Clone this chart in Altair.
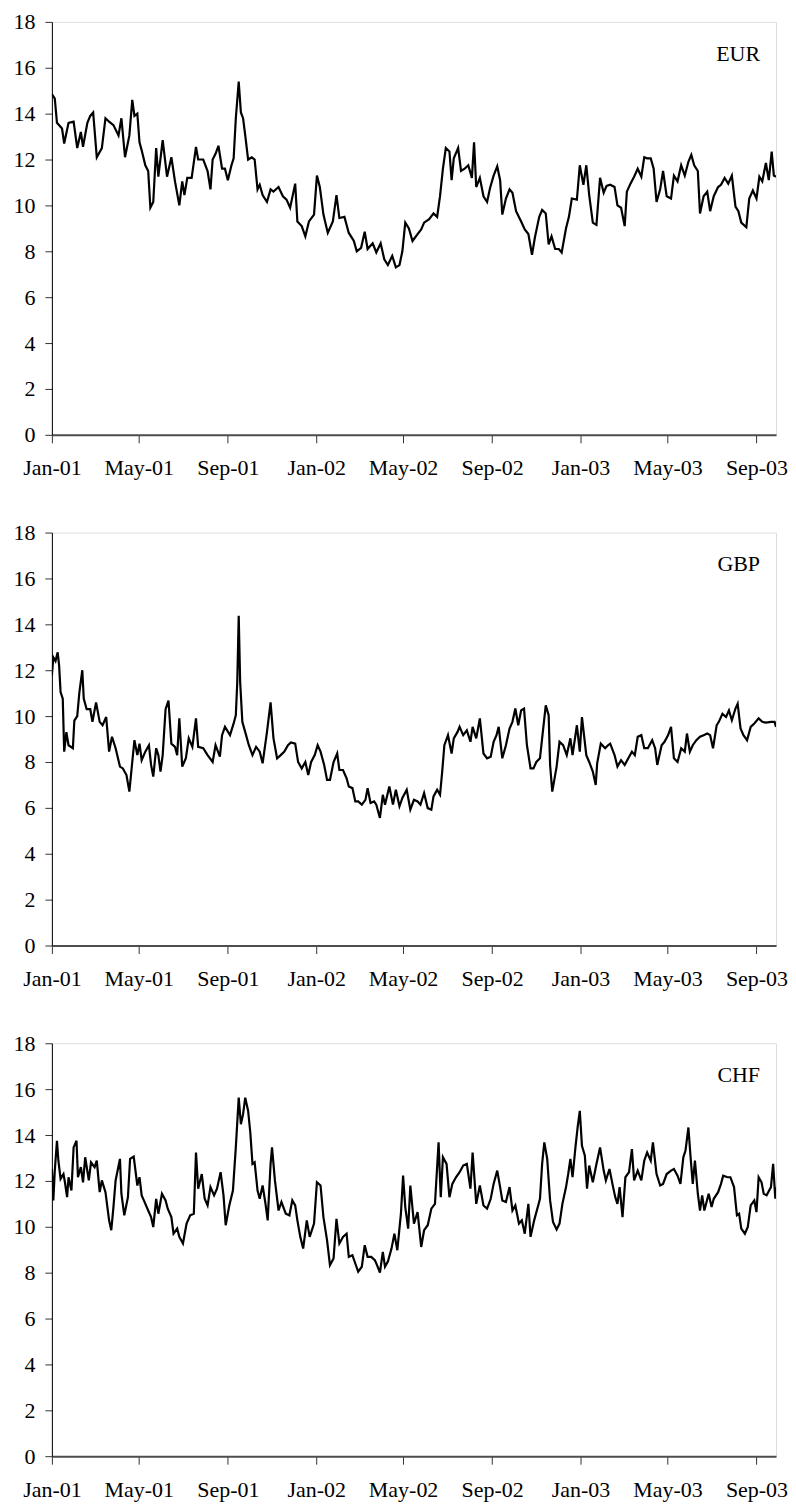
import altair as alt
import pandas as pd

BASE = "2001-01-01"
FONT = "Liberation Serif"

currencies = ["EUR", "GBP", "CHF"]
x_tick_dates = ["2001-01-01", "2001-05-01", "2001-09-01", "2002-01-01", "2002-05-01",
                "2002-09-01", "2003-01-01", "2003-05-01", "2003-09-01"]
y_ticks = [0, 2, 4, 6, 8, 10, 12, 14, 16, 18]
x_domain = ["2001-01-01", "2003-09-28"]

# day offsets from 2001-01-01 and values
eur_days = [0, 4, 7, 14, 17, 23, 30, 35, 40, 43,
            49, 53, 57, 62, 69, 74, 79, 85, 92, 96,
            101, 107, 111, 114, 118, 121, 124, 129, 133, 136,
            140, 144, 147, 153, 159, 165, 170, 176, 180, 183,
            187, 193, 199, 202, 209, 215, 219, 222, 226, 230,
            235, 239, 243, 248, 251, 254, 258, 261, 264, 267,
            271, 276, 280, 284, 287, 291, 297, 302, 306, 313,
            319, 324, 329, 336, 339, 345, 350, 355, 362, 366,
            370, 375, 381, 388, 393, 397, 404, 410, 417, 421,
            427, 432, 436, 443, 448, 454, 459, 464, 470, 475,
            480, 484, 488, 493, 498, 505, 510, 514, 521, 527,
            532, 536, 540, 544, 549, 552, 555, 561, 565, 570,
            575, 580, 583, 586, 591, 596, 601, 605, 610, 615,
            619, 622, 627, 632, 636, 641, 648, 653, 658, 663,
            667, 673, 677, 682, 686, 690, 695, 700, 704, 710,
            714, 718, 725, 729, 734, 738, 742, 747, 752, 757,
            762, 766, 771, 777, 781, 786, 791, 794, 799, 804,
            809, 814, 818, 822, 827, 831, 835, 840, 844, 849,
            855, 859, 864, 869, 874, 879, 883, 887, 892, 895,
            900, 905, 909, 914, 920, 924, 929, 934, 939, 944,
            948, 952, 959, 963, 968, 973, 977, 981, 986, 990,
            994, 997, 1000]
eur_vals = [14.85, 14.65, 13.6, 13.35, 12.7, 13.6, 13.65, 12.5, 13.2, 12.55,
            13.6, 13.9, 14.05, 12.1, 12.5, 13.8, 13.65, 13.5, 13.05, 13.8,
            12.1, 13.05, 14.6, 13.9, 14.0, 12.75, 12.4, 11.75, 11.5, 9.9,
            10.15, 12.5, 11.25, 12.85, 11.25, 12.1, 11.05, 10.0, 11.05, 10.45,
            11.2, 11.2, 12.55, 12.0, 12.0, 11.5, 10.7, 12.0, 12.25, 12.6,
            11.6, 11.6, 11.1, 11.75, 12.05, 13.8, 15.4, 14.05, 13.8, 13.05,
            12.0, 12.1, 12.0, 10.7, 10.9, 10.45, 10.15, 10.7, 10.6, 10.8,
            10.4, 10.25, 9.9, 10.95, 9.3, 9.1, 8.65, 9.3, 9.6, 11.3,
            10.8, 9.6, 8.8, 9.3, 10.45, 9.45, 9.5, 8.8, 8.45, 8.0,
            8.15, 8.85, 8.1, 8.35, 7.95, 8.35, 7.65, 7.4, 7.8, 7.3,
            7.4, 8.0, 9.25, 9.0, 8.45, 8.75, 8.95, 9.25, 9.4, 9.65,
            9.5, 10.4, 11.6, 12.5, 12.35, 11.1, 12.05, 12.5, 11.5, 11.6,
            11.75, 11.2, 12.75, 10.8, 11.2, 10.4, 10.15, 10.75, 11.3, 11.7,
            11.1, 9.6, 10.3, 10.7, 10.55, 9.75, 9.3, 8.95, 8.75, 7.85,
            8.6, 9.5, 9.8, 9.65, 8.3, 8.65, 8.1, 8.1, 7.95, 9.0,
            9.5, 10.3, 10.25, 11.75, 10.9, 11.75, 10.45, 9.25, 9.15, 11.2,
            10.55, 10.85, 10.9, 10.8, 10.0, 9.9, 9.1, 10.6, 10.95, 11.25,
            11.6, 11.25, 12.1, 12.05, 12.05, 11.6, 10.15, 10.7, 11.5, 10.4,
            10.3, 11.3, 11.05, 11.75, 11.3, 11.9, 12.2, 11.75, 11.5, 9.65,
            10.4, 10.6, 9.75, 10.4, 10.8, 10.9, 11.2, 10.95, 11.3, 9.95,
            9.75, 9.25, 9.05, 10.3, 10.65, 10.3, 11.25, 11.05, 11.85, 11.1,
            12.35, 11.3, 11.25]

gbp_days = [0, 2, 5, 8, 10, 12, 15, 17, 20, 23,
            29, 31, 35, 38, 42, 44, 48, 53, 56, 61,
            66, 70, 75, 79, 83, 88, 94, 98, 103, 107,
            111, 114, 118, 121, 124, 129, 134, 137, 140, 144,
            147, 150, 153, 157, 161, 165, 170, 173, 176, 180,
            185, 189, 194, 199, 202, 209, 215, 222, 226, 232,
            235, 239, 246, 251, 254, 256, 258, 260, 263, 267,
            272, 277, 282, 287, 291, 297, 302, 306, 311, 316,
            321, 326, 330, 336, 340, 345, 350, 354, 358, 363,
            367, 371, 376, 380, 384, 389, 394, 397, 402, 407,
            410, 415, 419, 423, 428, 433, 436, 440, 445, 448,
            453, 457, 460, 466, 471, 475, 480, 484, 490, 495,
            500, 505, 509, 514, 519, 524, 527, 532, 536, 539,
            542, 547, 552, 555, 560, 563, 568, 573, 578, 581,
            586, 591, 596, 601, 606, 610, 614, 617, 622, 627,
            632, 636, 640, 644, 648, 652, 656, 661, 665, 669,
            674, 677, 682, 686, 688, 691, 697, 701, 706, 711,
            716, 719, 725, 729, 732, 738, 742, 747, 751, 753,
            758, 764, 768, 771, 777, 781, 786, 791, 796, 801,
            805, 809, 814, 818, 823, 829, 833, 836, 842, 846,
            851, 855, 859, 864, 869, 874, 877, 881, 885, 890,
            895, 900, 905, 909, 913, 918, 921, 926, 931, 935,
            939, 944, 947, 951, 955, 960, 965, 970, 976, 981,
            986, 993, 998, 1000]
gbp_vals = [11.77, 12.56, 12.4, 12.78, 12.2, 11.05, 10.76, 8.45, 9.3, 8.73,
            8.6, 9.8, 10.0, 11.05, 12.0, 10.76, 10.3, 10.3, 9.75, 10.6,
            9.75, 9.6, 9.96, 8.45, 9.1, 8.6, 7.8, 7.72, 7.43, 6.71,
            8.0, 8.95, 8.3, 8.8, 8.08, 8.45, 8.73, 7.87, 7.36, 8.6,
            8.3, 7.58, 8.3, 10.3, 10.68, 8.8, 8.66, 8.3, 9.9, 7.8,
            8.16, 9.03, 8.66, 9.9, 8.66, 8.6, 8.3, 8.0, 8.73, 8.23,
            9.17, 9.53, 9.17, 9.68, 10.04, 11.48, 14.37, 11.48, 9.75, 9.3,
            8.73, 8.3, 8.66, 8.45, 7.94, 9.3, 10.6, 9.03, 8.16, 8.3,
            8.45, 8.73, 8.85, 8.8, 8.0, 7.72, 8.0, 7.43, 8.0, 8.3,
            8.73, 8.45, 7.87, 7.22, 7.22, 8.0, 8.37, 7.65, 7.65, 7.29,
            6.93, 6.86, 6.28, 6.28, 6.14, 6.35, 6.86, 6.21, 6.28, 6.14,
            5.56, 6.57, 6.14, 6.93, 6.14, 6.79, 6.07, 6.43, 6.79, 5.92,
            6.35, 6.28, 6.14, 6.64, 5.99, 5.92, 6.5, 6.79, 6.57, 7.58,
            8.73, 9.17, 8.37, 9.03, 9.3, 9.53, 9.17, 9.38, 8.88, 9.53,
            9.03, 9.9, 8.37, 8.16, 8.23, 8.88, 9.17, 9.53, 8.16, 8.73,
            9.46, 9.75, 10.33, 9.6, 10.25, 10.33, 8.73, 7.72, 7.72, 8.0,
            8.16, 9.03, 10.47, 10.04, 7.87, 6.71, 7.8, 8.88, 8.73, 8.3,
            9.03, 8.3, 9.6, 8.45, 9.96, 8.3, 8.0, 7.58, 7.0, 7.94,
            8.8, 8.6, 8.73, 8.8, 8.3, 7.8, 8.08, 7.87, 8.16, 8.45,
            8.3, 9.1, 9.17, 8.6, 8.6, 8.95, 8.6, 7.87, 8.73, 8.88,
            9.17, 9.53, 8.16, 8.0, 8.6, 8.45, 9.24, 8.45, 8.73, 8.95,
            9.1, 9.17, 9.24, 9.17, 8.6, 9.6, 9.75, 10.1, 9.96, 10.25,
            9.82, 10.33, 10.54, 9.46, 9.17, 8.95, 9.53, 9.68, 9.9, 9.75,
            9.72, 9.75, 9.75, 9.53]

chf_days = [0, 2, 4, 7, 9, 12, 16, 18, 21, 23,
            27, 30, 34, 36, 40, 43, 46, 51, 54, 59,
            62, 66, 69, 74, 79, 82, 85, 88, 94, 96,
            100, 105, 108, 113, 118, 121, 124, 127, 133, 137,
            140, 144, 147, 152, 157, 160, 165, 168, 173, 176,
            181, 186, 191, 196, 199, 202, 207, 211, 215, 219,
            224, 228, 233, 237, 240, 245, 250, 254, 258, 261,
            264, 267, 271, 274, 277, 280, 284, 287, 291, 295,
            298, 302, 304, 308, 313, 317, 323, 328, 332, 336,
            339, 343, 347, 352, 356, 362, 366, 371, 375, 380,
            384, 389, 393, 397, 402, 407, 410, 415, 419, 423,
            428, 432, 436, 441, 446, 449, 453, 457, 460, 464,
            469, 473, 477, 482, 485, 488, 492, 495, 500, 505,
            510, 514, 519, 524, 529, 534, 537, 540, 545, 549,
            553, 558, 563, 568, 573, 578, 581, 586, 591, 596,
            601, 606, 610, 615, 619, 622, 627, 632, 636, 640,
            645, 649, 653, 658, 661, 666, 671, 674, 677, 680,
            684, 688, 692, 697, 701, 705, 710, 713, 716, 719,
            723, 726, 729, 732, 736, 739, 742, 747, 752, 757,
            762, 765, 770, 775, 778, 781, 784, 788, 792, 797,
            801, 804, 809, 814, 818, 822, 827, 830, 835, 840,
            844, 849, 855, 859, 864, 868, 872, 875, 879, 882,
            885, 888, 892, 895, 898, 901, 907, 911, 914, 920,
            924, 927, 933, 937, 942, 946, 949, 952, 957, 961,
            965, 970, 973, 976, 980, 983, 987, 993, 996, 999,
            1000]
chf_vals = [12.52, 11.15, 12.45, 13.75, 12.88, 12.09, 12.3, 11.94, 11.29, 12.16,
            11.58, 13.46, 13.75, 12.16, 12.6, 11.94, 13.03, 12.02, 12.81, 12.6,
            12.88, 11.51, 12.02, 11.51, 10.28, 9.85, 10.86, 12.02, 12.96, 11.44,
            10.5, 11.29, 12.96, 13.06, 11.8, 12.16, 11.37, 11.15, 10.71, 10.42,
            9.99, 11.22, 10.57, 11.44, 11.15, 10.79, 10.42, 9.7, 9.92, 9.56,
            9.27, 10.14, 10.5, 10.57, 13.24, 11.66, 12.3, 11.22, 10.93, 11.73,
            11.37, 11.66, 12.38, 11.37, 10.07, 10.93, 11.58, 13.46, 15.63, 14.47,
            14.91, 15.63, 15.05, 14.11, 12.74, 12.81, 11.58, 11.22, 11.8, 11.0,
            10.28, 12.74, 13.46, 12.02, 10.71, 11.08, 10.57, 10.5, 11.15, 10.93,
            10.28, 9.56, 9.05, 10.28, 9.56, 10.14, 11.94, 11.8, 10.42, 9.41,
            8.33, 8.62, 10.35, 9.27, 9.56, 9.7, 8.69, 8.76, 8.4, 8.04,
            8.26, 9.2, 8.69, 8.69, 8.55, 8.33, 8.0, 8.91, 8.26, 8.48,
            9.05, 9.7, 8.98, 10.57, 12.23, 10.86, 9.92, 11.8, 10.14, 10.64,
            9.12, 9.85, 10.07, 10.79, 11.0, 13.68, 11.29, 13.03, 12.74, 11.29,
            11.87, 12.16, 12.38, 12.67, 12.74, 11.66, 13.24, 11.0, 11.8, 10.93,
            10.79, 11.22, 11.87, 12.45, 11.73, 11.15, 11.08, 11.73, 10.71, 10.93,
            10.14, 10.28, 9.7, 11.0, 9.56, 10.28, 10.86, 11.22, 12.74, 13.68,
            12.96, 11.15, 10.21, 9.88, 10.14, 11.0, 11.73, 12.3, 12.96, 12.16,
            13.46, 14.33, 15.05, 13.53, 13.1, 11.66, 12.67, 11.94, 12.74, 13.46,
            12.45, 12.02, 12.52, 11.73, 11.29, 11.0, 11.73, 10.42, 12.16, 12.38,
            13.39, 12.02, 12.45, 12.02, 12.88, 13.24, 12.88, 13.68, 12.3, 11.8,
            11.87, 12.3, 12.45, 12.52, 12.23, 11.87, 13.03, 13.32, 14.33, 13.03,
            11.87, 12.88, 11.44, 10.71, 11.37, 10.71, 11.44, 10.86, 11.22, 11.51,
            11.87, 12.23, 12.16, 12.16, 11.73, 10.5, 10.57, 9.92, 9.7, 9.99,
            10.93, 11.15, 10.64, 12.16, 11.94, 11.44, 11.37, 11.73, 12.74, 11.22,
            11.73]

series_days = [eur_days, gbp_days, chf_days]
series_vals = [eur_vals, gbp_vals, chf_vals]


def make_frame(days, vals):
    assert len(days) == len(vals), (len(days), len(vals))
    dates = pd.to_datetime(BASE) + pd.to_timedelta(days, unit="D")
    return pd.DataFrame({"date": dates.strftime("%Y-%m-%d"), "value": vals})


def utc_dt(s):
    y, m, d = (int(p) for p in s.split("-"))
    return alt.DateTime(year=y, month=m, date=d, utc=True)


x_axis = alt.Axis(
    values=[utc_dt(s) for s in x_tick_dates], format="%b-%y", title=None, grid=False,
    labelFont=FONT, labelFontSize=22, labelColor="black", labelPadding=15,
    labelFlush=False, labelOverlap=False, labelAngle=0,
    tickSize=8, tickColor="#333333", tickWidth=1,
    domainColor="#4d4d4d", domainWidth=2,
)
y_axis = alt.Axis(
    values=y_ticks, title=None, grid=False,
    labelFont=FONT, labelFontSize=22, labelColor="black", labelPadding=10,
    labelFlush=False,
    tickSize=7, tickColor="#333333", tickWidth=1,
    domainColor="black", domainWidth=1,
)


def panel(name, days, vals):
    df = make_frame(days, vals)
    line = alt.Chart(df).mark_line(color="black", strokeWidth=2.2, clip=True).encode(
        x=alt.X("date:T", scale=alt.Scale(type="utc", domain=[utc_dt(s) for s in x_domain]),
                axis=x_axis),
        y=alt.Y("value:Q", scale=alt.Scale(domain=[0, 18], nice=False), axis=y_axis),
    )
    label = alt.Chart(pd.DataFrame({"t": [name]})).mark_text(
        align="right", baseline="alphabetic", font=FONT, fontSize=22, color="black"
    ).encode(text="t:N", x=alt.value(710), y=alt.value(39))
    return alt.layer(line, label).properties(width=726, height=414)


chart = alt.vconcat(
    *[panel(n, d, v) for n, d, v in zip(currencies, series_days, series_vals)],
    spacing=41,
).properties(
    padding={"left": 4, "top": 0, "right": -1, "bottom": -1}
).configure_view(
    stroke="#a6a6a6", strokeWidth=1
).configure(
    font=FONT, background="white"
)

chart.save("out.html", embed_options={"renderer": "svg", "actions": False})
